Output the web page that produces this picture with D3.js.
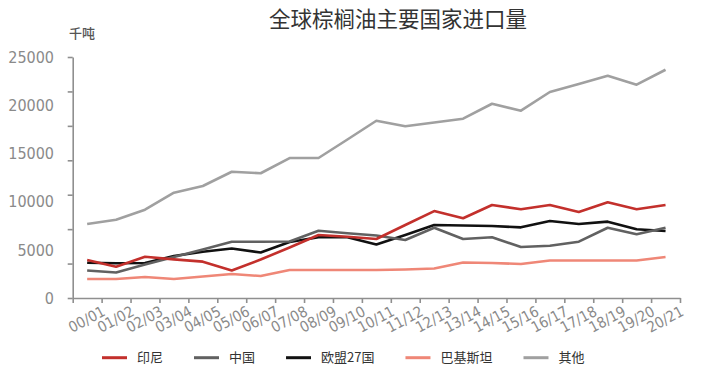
<!DOCTYPE html>
<html>
<head>
<meta charset="utf-8">
<script src="https://cdn.jsdelivr.net/npm/d3@7"></script>
<style>
  body { margin: 0; background: #fff; }
  svg { display: block; }
</style>
</head>
<body>
<div id="chart"></div>
<script>
const categories = ["00/01", "01/02", "02/03", "03/04", "04/05", "05/06", "06/07", "07/08", "08/09", "09/10",
  "10/11", "11/12", "12/13", "13/14", "14/15", "15/16", "16/17", "17/18", "18/19", "19/20", "20/21"];

const india = [3940, 3250, 4280, 4010, 3770, 2850, 3990, 5240, 6530, 6360, 6120, 7570, 9020, 8270, 9650, 9200, 9650, 8920, 9930, 9200, 9650];
const china = [2850, 2650, 3480, 4250, 5030, 5840, 5840, 5860, 6980, 6720, 6480, 6020, 7290, 6120, 6300, 5290, 5420, 5840, 7290, 6610, 7290];
const eu27 = [3660, 3600, 3630, 4360, 4800, 5140, 4720, 5810, 6300, 6300, 5550, 6530, 7570, 7520, 7470, 7330, 7990, 7680, 7920, 7130, 6950];
const pakistan = [1970, 1970, 2180, 1970, 2230, 2490, 2280, 2900, 2900, 2900, 2900, 2960, 3060, 3680, 3630, 3530, 3890, 3890, 3890, 3890, 4250];
const others = [7680, 8120, 9160, 10920, 11620, 13100, 12940, 14520, 14520, 16440, 18390, 17810, 18200, 18600, 20150, 19430, 21370, 22200, 23060, 22130, 23680];

const seriesNames = ["印尼", "中国", "欧盟27国", "巴基斯坦", "其他"];
const seriesColors = ["#c3302c", "#616161", "#111111", "#ef8777", "#a0a0a0"];
const yLabels = [0, 5000, 10000, 15000, 20000, 25000];
const yMax = 25000;

const series = [india, china, eu27, pakistan, others].map((values, i) => ({
  name: seriesNames[i],
  color: seriesColors[i],
  values
}));

const chartWidth = 703;
const chartHeight = 370;
const plotLeft = 72.7;
const plotRight = 680;
const plotBottom = 298;
const plotTop = 57;

const numFont = "'Liberation Sans Narrow', 'DejaVu Sans Condensed', sans-serif";
const cjkFont = "'Noto Sans CJK SC', 'Noto Sans', sans-serif";

const svg = d3.select("#chart")
  .append("svg")
  .attr("width", chartWidth)
  .attr("height", chartHeight);

const x = d3.scaleBand().domain(categories).range([plotLeft, plotRight]);
const xEdge = d3.scaleLinear().domain([0, categories.length]).range([plotLeft, plotRight]);
const y = d3.scaleLinear().domain([0, yMax]).range([plotBottom, plotTop]);

// title + unit
svg.append("text")
  .attr("x", 398)
  .attr("y", 26.5)
  .attr("text-anchor", "middle")
  .style("font-family", cjkFont)
  .style("font-size", "21.5px")
  .style("fill", "#333")
  .text("全球棕榈油主要国家进口量");

svg.append("text")
  .attr("x", 69)
  .attr("y", 37.5)
  .style("font-family", cjkFont)
  .style("font-size", "13px")
  .style("font-weight", "500")
  .style("fill", "#555")
  .text("千吨");

// y axis: ticks split the range in 7, labels every 5000
const yAxis = d3.axisLeft(y)
  .tickValues(d3.range(8).map(i => i * yMax / 7))
  .tickSize(5)
  .tickSizeOuter(0)
  .tickFormat("");

const gy = svg.append("g")
  .attr("transform", `translate(${plotLeft},0)`)
  .call(yAxis);

svg.append("g")
  .selectAll("text")
  .data(yLabels)
  .join("text")
  .attr("x", 54)
  .attr("y", d => y(d))
  .attr("dy", "0.36em")
  .attr("text-anchor", "end")
  .style("font-family", numFont)
  .style("font-size", "16px")
  .style("fill", "#8a8a8a")
  .text(d => d);

// x axis: ticks on band edges, labels end at right edge
const xAxis = d3.axisBottom(xEdge)
  .tickValues(d3.range(categories.length + 1))
  .tickSize(5)
  .tickSizeOuter(0)
  .tickFormat(i => (i > 0 ? categories[i - 1] : ""));

const gx = svg.append("g")
  .attr("transform", `translate(0,${plotBottom})`)
  .call(xAxis);

gx.selectAll("text")
  .attr("x", 2)
  .attr("y", 0)
  .attr("dy", "0.35em")
  .attr("text-anchor", "end")
  .attr("transform", "translate(0,13) rotate(-28)")
  .style("font-family", numFont)
  .style("font-size", "15px")
  .style("fill", "#8a8a8a");

[gx, gy].forEach(g => {
  g.select(".domain").attr("stroke", "#8f8f8f").attr("stroke-width", 1.6);
  g.selectAll(".tick line").attr("stroke", "#8f8f8f").attr("stroke-width", 1.6);
});

// lines
const line = d3.line()
  .x((d, i) => x(categories[i]) + x.bandwidth() / 2)
  .y(d => y(d));

svg.append("g")
  .selectAll("path")
  .data(series.slice().reverse())
  .join("path")
  .attr("d", d => line(d.values))
  .attr("fill", "none")
  .attr("stroke", d => d.color)
  .attr("stroke-width", 2.6)
  .attr("stroke-linejoin", "round");

// legend
const legend = svg.append("g").attr("transform", "translate(102,357.7)");
let lx = 0;
series.forEach(s => {
  const item = legend.append("g").attr("transform", `translate(${lx},0)`);
  item.append("line")
    .attr("x1", 0).attr("x2", 25)
    .attr("stroke", s.color)
    .attr("stroke-width", 3);
  const t = item.append("text")
    .attr("x", 35)
    .attr("dy", "0.35em")
    .style("font-family", cjkFont)
    .style("font-size", "13px")
    .style("fill", "#333")
    .text(s.name);
  lx += 35 + t.node().getComputedTextLength() + 31;
});
</script>
</body>
</html>
